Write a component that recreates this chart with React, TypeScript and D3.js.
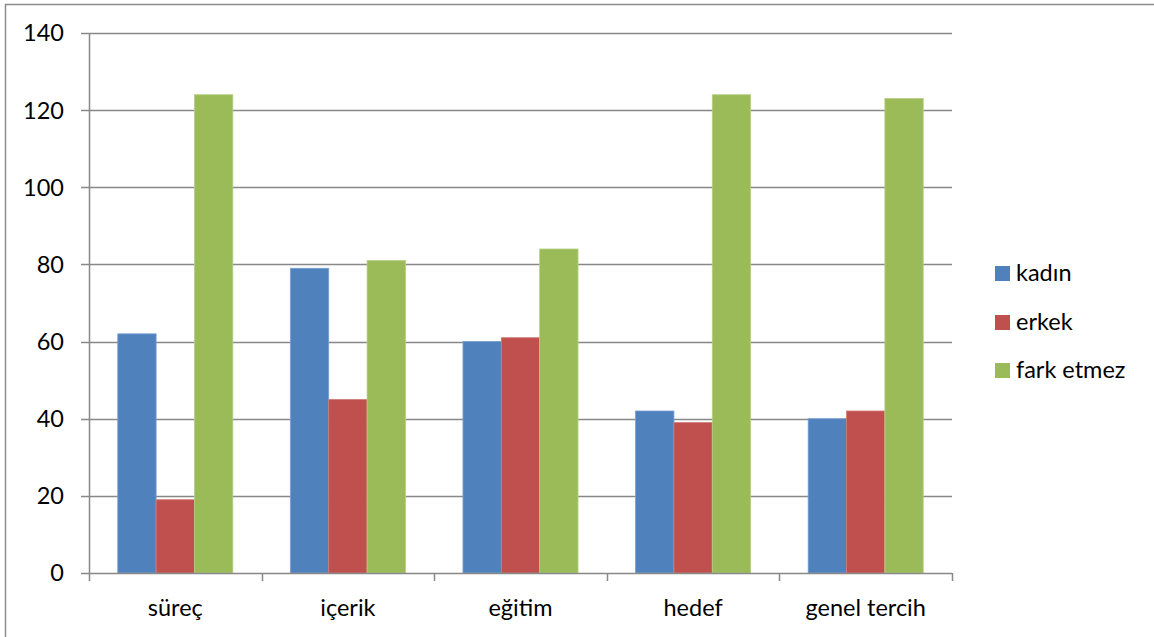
import React, { useEffect, useRef } from "react";
import * as d3 from "d3";

const categories = ["süreç", "içerik", "eğitim", "hedef", "genel tercih"];
const seriesNames = ["kadın", "erkek", "fark etmez"];
const kadin = [62, 79, 60, 42, 40];
const erkek = [19, 45, 61, 39, 42];
const farkEtmez = [124, 81, 84, 124, 123];
const yTicks = [0, 20, 40, 60, 80, 100, 120, 140];
const colors = ["#4F81BD", "#C0504D", "#9BBB59"];
const strokes = ["#7A9FCF", "#D07A78", "#B5CF85"];

const W = 1154;
const H = 637;
const margin = { top: 33, left: 89, right: 202, bottom: 64 };
const font = "Lato, 'Open Sans', sans-serif";
const fontSize = 23.5;

export default function App() {
  const svgRef = useRef<SVGSVGElement>(null);

  useEffect(() => {
    const svg = d3.select(svgRef.current);
    svg.selectAll("*").remove();

    const series = [kadin, erkek, farkEtmez];
    const x0 = margin.left;
    const x1 = W - margin.right;
    const yBottom = H - margin.bottom;

    const x = d3.scaleBand().domain(categories).range([x0, x1]).paddingInner(0).paddingOuter(0);
    const bw = x.bandwidth();
    // gap width 150%: band = 3 bars + 1.5 bar
    const barW = bw / 4.5;
    const xs = d3.scaleBand().domain(seriesNames).range([bw / 2 - barW * 1.5, bw / 2 + barW * 1.5]);
    const y = d3.scaleLinear().domain([0, 140]).range([yBottom, margin.top]);

    svg.append("rect").attr("width", W).attr("height", H).attr("fill", "#fff");

    // outer border (only top/left visible)
    svg
      .append("rect")
      .attr("x", 5.5)
      .attr("y", 4.5)
      .attr("width", W + 20)
      .attr("height", H + 20)
      .attr("fill", "none")
      .attr("stroke", "#8c8c8c")
      .attr("stroke-width", 1.5);

    // gridlines
    svg
      .append("g")
      .selectAll("line")
      .data(yTicks.filter((t) => t > 0))
      .join("line")
      .attr("x1", x0)
      .attr("x2", x1)
      .attr("y1", (d) => Math.round(y(d)) + 0.5)
      .attr("y2", (d) => Math.round(y(d)) + 0.5)
      .attr("stroke", "#888")
      .attr("stroke-width", 1.5);

    // bars
    series.forEach((vals, si) => {
      svg
        .append("g")
        .selectAll("rect")
        .data(vals)
        .join("rect")
        .attr("x", (d, i) => x(categories[i]) + xs(seriesNames[si]))
        .attr("y", (d) => y(d))
        .attr("width", xs.bandwidth())
        .attr("height", (d) => yBottom - y(d))
        .attr("fill", colors[si])
        .attr("stroke", strokes[si])
        .attr("stroke-width", 0.8);
    });

    // y axis
    const gy = svg.append("g");
    gy.append("line")
      .attr("x1", x0 + 0.5)
      .attr("x2", x0 + 0.5)
      .attr("y1", margin.top)
      .attr("y2", yBottom)
      .attr("stroke", "#888")
      .attr("stroke-width", 1.5);
    gy.selectAll("line.tick")
      .data(yTicks)
      .join("line")
      .attr("class", "tick")
      .attr("x1", x0 - 8)
      .attr("x2", x0)
      .attr("y1", (d) => Math.round(y(d)) + 0.5)
      .attr("y2", (d) => Math.round(y(d)) + 0.5)
      .attr("stroke", "#888")
      .attr("stroke-width", 1.5);
    gy.selectAll("text")
      .data(yTicks)
      .join("text")
      .attr("x", 64)
      .attr("y", (d) => y(d))
      .attr("dy", "0.36em")
      .attr("text-anchor", "end")
      .attr("font-family", font)
      .attr("font-size", fontSize)
      .attr("fill", "#000")
      .text((d) => d);

    // x axis
    const gx = svg.append("g");
    gx.append("line")
      .attr("x1", x0)
      .attr("x2", x1)
      .attr("y1", yBottom + 0.5)
      .attr("y2", yBottom + 0.5)
      .attr("stroke", "#888")
      .attr("stroke-width", 1.5);
    const tickXs = categories.map((c) => x(c)).concat([x1]);
    gx.selectAll("line.tick")
      .data(tickXs)
      .join("line")
      .attr("class", "tick")
      .attr("x1", (d) => Math.round(d) + 0.5)
      .attr("x2", (d) => Math.round(d) + 0.5)
      .attr("y1", yBottom)
      .attr("y2", yBottom + 8)
      .attr("stroke", "#888")
      .attr("stroke-width", 1.5);
    gx.selectAll("text")
      .data(categories)
      .join("text")
      .attr("x", (d) => x(d) + bw / 2)
      .attr("y", yBottom + 43)
      .attr("text-anchor", "middle")
      .attr("font-family", font)
      .attr("font-size", fontSize)
      .attr("fill", "#000")
      .text((d) => d);

    // legend
    const lg = svg.append("g");
    const rows = [273, 322, 370];
    seriesNames.forEach((name, i) => {
      lg.append("rect")
        .attr("x", 995)
        .attr("y", rows[i] - 7)
        .attr("width", 15)
        .attr("height", 15)
        .attr("fill", colors[i]);
      lg.append("text")
        .attr("x", 1016)
        .attr("y", rows[i])
        .attr("dy", "0.36em")
        .attr("font-family", font)
        .attr("font-size", fontSize)
        .attr("fill", "#000")
        .text(name);
    });
  }, []);

  return (
    <svg
      ref={svgRef}
      width={W}
      height={H}
      style={{ position: "absolute", left: 0, top: 0, display: "block" }}
    />
  );
}
